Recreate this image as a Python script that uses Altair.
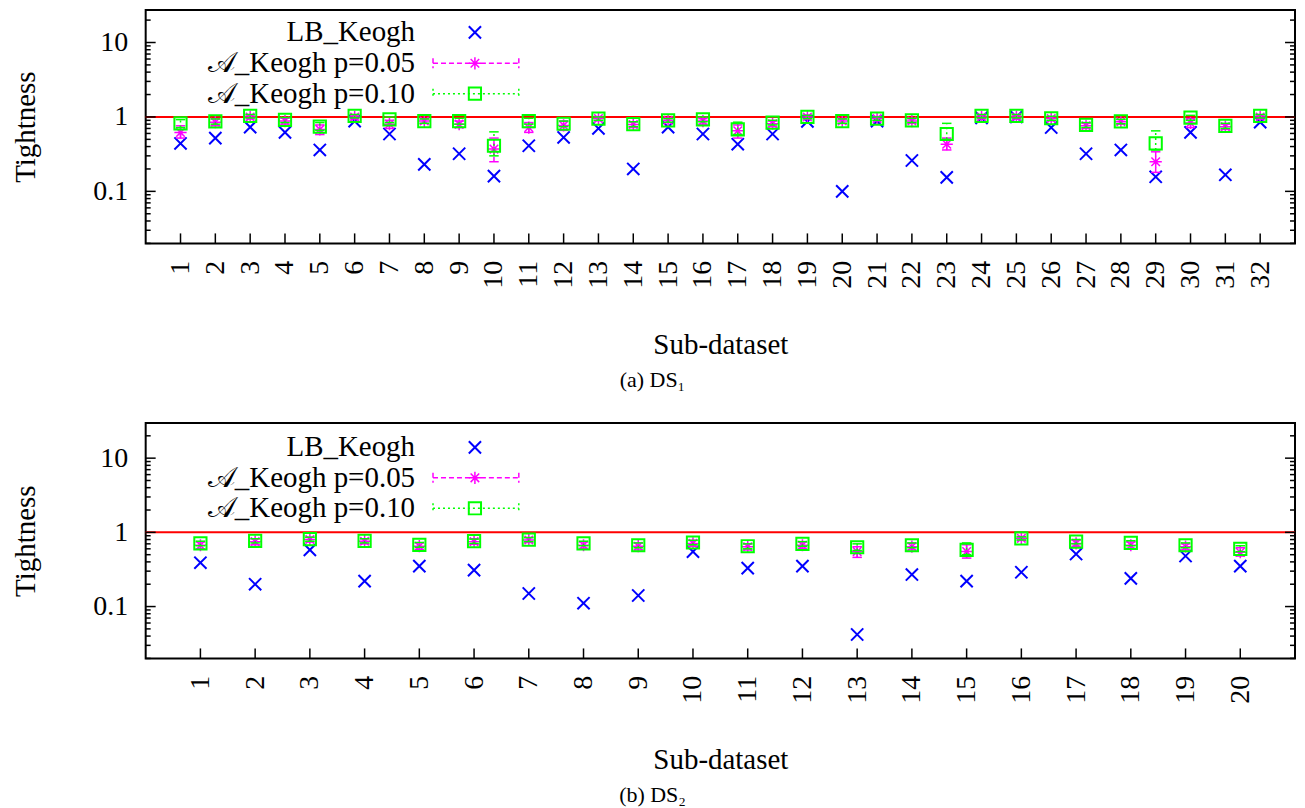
import altair as alt
import pandas as pd

# ---------------- data: (a) DS1 ----------------
cats1 = list(range(1, 33))
lb1 = [0.44, 0.52, 0.73, 0.62, 0.36, 0.88, 0.59, 0.23, 0.32, 0.16, 0.41, 0.53, 0.70, 0.20, 0.73, 0.59,
       0.43, 0.59, 0.87, 0.10, 0.88, 0.26, 0.154, 0.97, 1.0, 0.72, 0.32, 0.36, 0.157, 0.62, 0.167, 0.85]
p05_1 = [0.62, 0.85, 1.0, 0.88, 0.68, 1.0, 0.80, 0.88, 0.80, 0.37, 0.72, 0.77, 0.95, 0.79, 0.90, 0.88,
         0.65, 0.81, 1.0, 0.88, 0.95, 0.88, 0.43, 1.0, 1.0, 0.95, 0.76, 0.86, 0.25, 0.83, 0.74, 1.0]
p05lo_1 = [0.52, 0.76, 0.94, 0.80, 0.58, 0.94, 0.70, 0.82, 0.72, 0.25, 0.62, 0.66, 0.89, 0.72, 0.84, 0.80,
           0.52, 0.74, 0.94, 0.82, 0.89, 0.82, 0.36, 0.94, 0.94, 0.89, 0.70, 0.80, 0.18, 0.72, 0.68, 0.94]
p05hi_1 = [0.76, 0.94, 1.06, 0.96, 0.78, 1.06, 0.90, 0.94, 0.88, 0.52, 0.84, 0.88, 1.01, 0.86, 0.96, 0.95,
           0.78, 0.88, 1.06, 0.94, 1.01, 0.94, 0.52, 1.06, 1.06, 1.01, 0.82, 0.92, 0.34, 0.95, 0.80, 1.06]
p10_1 = [0.82, 0.87, 1.03, 0.91, 0.74, 1.03, 0.93, 0.88, 0.88, 0.41, 0.88, 0.81, 0.95, 0.80, 0.90, 0.93,
         0.68, 0.84, 1.0, 0.88, 0.95, 0.90, 0.59, 1.03, 1.03, 0.96, 0.78, 0.87, 0.44, 0.98, 0.76, 1.03]
p10lo_1 = [0.72, 0.80, 0.97, 0.84, 0.66, 0.97, 0.84, 0.82, 0.80, 0.30, 0.80, 0.74, 0.90, 0.74, 0.85, 0.86,
           0.58, 0.78, 0.95, 0.82, 0.90, 0.84, 0.50, 0.97, 0.97, 0.90, 0.72, 0.81, 0.36, 0.90, 0.70, 0.97]
p10hi_1 = [0.92, 0.94, 1.08, 0.98, 0.84, 1.08, 1.00, 0.94, 0.96, 0.63, 0.96, 0.88, 1.00, 0.86, 0.95, 1.00,
           0.85, 0.90, 1.05, 0.94, 1.00, 0.96, 0.82, 1.08, 1.08, 1.02, 0.84, 0.93, 0.65, 1.05, 0.82, 1.08]

# ---------------- data: (b) DS2 ----------------
cats2 = list(range(1, 21))
lb2 = [0.39, 0.20, 0.58, 0.22, 0.35, 0.31, 0.15, 0.111, 0.141, 0.55, 0.33, 0.35, 0.042, 0.27, 0.22, 0.29,
       0.51, 0.24, 0.48, 0.35]
p05_2 = [0.67, 0.75, 0.80, 0.76, 0.65, 0.75, 0.79, 0.67, 0.65, 0.71, 0.64, 0.67, 0.55, 0.64, 0.55, 0.83,
         0.71, 0.67, 0.64, 0.54]
p05lo_2 = [0.60, 0.68, 0.74, 0.70, 0.59, 0.69, 0.73, 0.61, 0.58, 0.65, 0.58, 0.61, 0.46, 0.58, 0.45, 0.78,
           0.65, 0.61, 0.58, 0.48]
p05hi_2 = [0.74, 0.82, 0.86, 0.82, 0.72, 0.82, 0.85, 0.74, 0.72, 0.78, 0.70, 0.74, 0.64, 0.71, 0.68, 0.88,
           0.78, 0.74, 0.70, 0.62]
p10_2 = [0.71, 0.77, 0.81, 0.77, 0.68, 0.76, 0.80, 0.71, 0.67, 0.73, 0.65, 0.70, 0.63, 0.67, 0.58, 0.83,
         0.75, 0.72, 0.67, 0.60]
p10lo_2 = [0.66, 0.72, 0.76, 0.72, 0.63, 0.71, 0.75, 0.66, 0.62, 0.68, 0.60, 0.65, 0.57, 0.62, 0.50, 0.79,
           0.70, 0.66, 0.62, 0.55]
p10hi_2 = [0.76, 0.82, 0.86, 0.82, 0.73, 0.81, 0.85, 0.76, 0.72, 0.78, 0.70, 0.75, 0.70, 0.72, 0.72, 0.87,
           0.80, 0.77, 0.72, 0.66]

legend_labels = ["LB_Keogh", "𝒜_Keogh p=0.05", "𝒜_Keogh p=0.10"]
ytick_major = [0.1, 1, 10]
ytick_minor = [0.02, 0.03, 0.04, 0.05, 0.06, 0.07, 0.08, 0.09,
               0.2, 0.3, 0.4, 0.5, 0.6, 0.7, 0.8, 0.9,
               2, 3, 4, 5, 6, 7, 8, 9, 20]
ref_value = [1.0]

# ---------------- style ----------------
FONT = "Liberation Serif, DejaVu Serif, DejaVu Sans, serif"
BLUE, MAG, GREEN, RED = "#0000ff", "#ff00ff", "#00ff00", "#ff0000"
W = 1152
XSHAPE = "M-1,-1L1,1M-1,1L1,-1"
STAR = "M-1,0L1,0M0,-1L0,1M-0.7,-0.7L0.7,0.7M-0.7,0.7L0.7,-0.7"
HCAP = "M-1,0L1,0"


def one(v="x"):
    return pd.DataFrame({"k": [v]})


def panel(cats, lb, p05, p05lo, p05hi, p10, p10lo, p10hi, xmax, caption, H, ymax, rows_y):
    df = pd.DataFrame(dict(cat=cats, lb=lb, p05=p05, p05lo=p05lo, p05hi=p05hi,
                           p10=p10, p10lo=p10lo, p10hi=p10hi))
    xs = alt.Scale(domain=[0, xmax], nice=False, zero=False)
    yscale = alt.Scale(type="log", domain=[0.02, ymax], nice=False)
    xaxis = alt.Axis(values=cats, format="d", labelAngle=-90, ticks=False, domain=False, grid=False,
                     labelPadding=17, labelFont=FONT, labelFontSize=28, labelColor="black",
                     labelFlush=False, labelOverlap=False,
                     title="Sub-dataset", titlePadding=42, titleFont=FONT, titleFontSize=29,
                     titleFontWeight="normal", titleColor="black")
    yaxis = alt.Axis(values=ytick_major, format="~g", ticks=False, domain=False, grid=False,
                     labelPadding=18, labelFont=FONT, labelFontSize=28, labelColor="black",
                     title="Tightness", titlePadding=52, titleFont=FONT, titleFontSize=29,
                     titleFontWeight="normal", titleColor="black")

    def X(f):
        return alt.X(f, scale=xs, axis=xaxis)

    def Y(f):
        return alt.Y(f, scale=yscale, axis=yaxis)

    base = alt.Chart(df)
    layers = []
    # reference line at 1
    layers.append(alt.Chart(pd.DataFrame({"one": ref_value})).mark_rule(color=RED, strokeWidth=2)
                  .encode(y=Y("one:Q")))
    # LB_Keogh
    layers.append(base.mark_point(shape=XSHAPE, size=150, filled=False, color=BLUE, strokeWidth=2, opacity=1)
                  .encode(x=X("cat:Q"), y=Y("lb:Q")))
    # A_Keogh p=0.05 error bars + stars
    layers.append(base.mark_rule(color=MAG, strokeWidth=1.5, strokeDash=[5, 3])
                  .encode(x=X("cat:Q"), y=Y("p05lo:Q"), y2="p05hi:Q"))
    layers.append(base.transform_fold(["p05lo", "p05hi"], as_=["kk", "vv"])
                  .mark_point(shape=HCAP, size=90, filled=False, color=MAG, strokeWidth=1.5, opacity=1)
                  .encode(x=X("cat:Q"), y=Y("vv:Q")))
    layers.append(base.mark_point(shape=STAR, size=150, filled=False, color=MAG, strokeWidth=1.5, opacity=1)
                  .encode(x=X("cat:Q"), y=Y("p05:Q")))
    # A_Keogh p=0.10 error bars + squares
    layers.append(base.mark_rule(color=GREEN, strokeWidth=1.5, strokeDash=[2, 3])
                  .encode(x=X("cat:Q"), y=Y("p10lo:Q"), y2="p10hi:Q"))
    layers.append(base.transform_fold(["p10lo", "p10hi"], as_=["kk", "vv"])
                  .mark_point(shape=HCAP, size=90, filled=False, color=GREEN, strokeWidth=1.5, opacity=1)
                  .encode(x=X("cat:Q"), y=Y("vv:Q")))
    layers.append(base.mark_point(shape="square", size=150, filled=False, color=GREEN, strokeWidth=2, opacity=1)
                  .encode(x=X("cat:Q"), y=Y("p10:Q")))

    # inward ticks
    layers.append(alt.Chart(pd.DataFrame({"cat": cats})).mark_rule(color="black", strokeWidth=1.5)
                  .encode(x=X("cat:Q"), y=alt.value(H), y2=alt.value(H - 10)))
    for vals, ln in ((ytick_major, 10), (ytick_minor, 5)):
        tdf = pd.DataFrame({"t": vals})
        layers.append(alt.Chart(tdf).mark_rule(color="black", strokeWidth=1.5)
                      .encode(y=Y("t:Q"), x=alt.value(0), x2=alt.value(ln)))
        layers.append(alt.Chart(tdf).mark_rule(color="black", strokeWidth=1.5)
                      .encode(y=Y("t:Q"), x=alt.value(W), x2=alt.value(W - ln)))

    # legend (inside plot, labels right-aligned left of samples)
    tx, lx0, lx1, mx = 270, 288, 374, 330
    for i, lab in enumerate(legend_labels):
        ly = rows_y[i]
        layers.append(alt.Chart(one()).mark_text(text=lab, align="right", baseline="middle", font=FONT,
                                                  fontSize=29, color="black")
                      .encode(x=alt.value(tx), y=alt.value(ly)))
    layers.append(alt.Chart(one()).mark_point(shape=XSHAPE, size=150, filled=False, color=BLUE,
                                              strokeWidth=2, opacity=1)
                  .encode(x=alt.value(mx), y=alt.value(rows_y[0])))
    for i, (col, dash, shp, sw) in enumerate(((MAG, [5, 3], STAR, 1.5), (GREEN, [2, 3], "square", 2))):
        ly = rows_y[i + 1]
        layers.append(alt.Chart(one()).mark_rule(color=col, strokeWidth=1.5, strokeDash=dash)
                      .encode(x=alt.value(lx0), x2=alt.value(lx1), y=alt.value(ly)))
        for cx in (lx0, lx1):
            layers.append(alt.Chart(one()).mark_rule(color=col, strokeWidth=1.5, strokeDash=dash)
                          .encode(x=alt.value(cx), y=alt.value(ly - 5), y2=alt.value(ly + 5)))
        layers.append(alt.Chart(one()).mark_point(shape=shp, size=150, filled=False, color=col,
                                                  strokeWidth=sw, opacity=1)
                      .encode(x=alt.value(mx), y=alt.value(ly)))

    # caption below the panel
    layers.append(alt.Chart(one()).mark_text(text=caption, align="center", baseline="middle", font=FONT,
                                              fontSize=22, color="black")
                  .encode(x=alt.value(508), y=alt.value(H + 137)))

    return alt.layer(*layers).properties(width=W, height=H)


top = panel(cats1, lb1, p05_1, p05lo_1, p05hi_1, p10_1, p10lo_1, p10hi_1, 33, "(a) DS₁",
            234, 27.4, [22.5, 53.5, 84])
bottom = panel(cats2, lb2, p05_2, p05lo_2, p05hi_2, p10_2, p10lo_2, p10hi_2, 21, "(b) DS₂",
               236, 29.8, [24.5, 55, 85.5])

chart = (alt.vconcat(top, bottom, spacing=180, bounds="flush")
         .properties(padding={"left": 3, "top": 0, "right": 0, "bottom": 0}, background="white")
         .configure_view(stroke="black", strokeWidth=2))

chart.save("out.html", embed_options={"renderer": "svg", "actions": False})
